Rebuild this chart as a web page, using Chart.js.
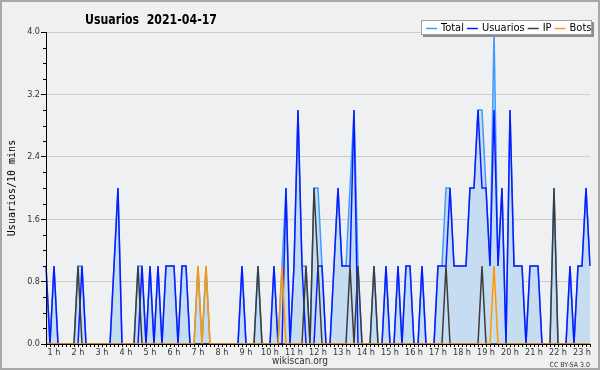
<!DOCTYPE html>
<html>
<head>
<meta charset="utf-8">
<script src="https://cdn.jsdelivr.net/npm/chart.js@4.4.0/dist/chart.umd.min.js"></script>
<style>
  html, body { margin: 0; padding: 0; background: #f0f0f0; }
  #chart { display: block; }
</style>
</head>
<body>
<canvas id="chart" width="600" height="370"></canvas>
<script>
// 10-minute slots, first slot 0:40, last 23:20
const firstSlot = '0:40';
const slotCount = 137;

// one row per hour (first row = 0:40, 0:50)
const usuarios = [
  1,0,
  1,0,0,0,0,0,  0,1,0,0,0,0,  0,0,0,1,2,0,  0,0,0,0,1,0,
  1,0,1,0,1,1,  1,0,1,1,0,0,  0,0,0,0,0,0,  0,0,0,0,0,1,
  0,0,0,0,0,0,  0,1,0,0,2,0,  1,3,1,0,0,0,  1,1,0,0,1,2,
  1,1,1,3,0,0,  0,0,0,0,0,1,  0,0,1,0,1,1,  0,0,1,0,0,0,
  1,1,1,2,1,1,  1,1,2,2,3,2,  2,1,3,1,2,0,  3,1,1,1,0,1,
  1,1,0,0,0,0,  0,0,0,1,0,1,  1,2,1
];
const ip = [
  0,0,
  0,0,0,0,0,0,  1,0,0,0,0,0,  0,0,0,0,0,0,  0,0,0,1,0,0,
  0,0,0,0,0,0,  0,0,0,0,0,0,  0,0,0,0,0,0,  0,0,0,0,0,0,
  0,0,0,1,0,0,  0,0,0,0,0,0,  0,0,0,1,0,2,  1,0,0,0,0,0,
  0,0,1,0,1,0,  0,0,1,0,0,0,  0,0,0,0,0,0,  0,0,0,0,0,0,
  0,0,1,0,0,0,  0,0,0,0,0,1,  0,0,0,0,0,0,  0,0,0,0,0,0,
  0,0,0,0,0,2,  0,0,0,0,0,0,  0,0,0
];
const bots = [
  0,0,
  0,0,0,0,0,0,  0,0,0,0,0,0,  0,0,0,0,0,0,  0,0,0,0,0,0,
  0,0,0,0,0,0,  0,0,0,0,0,0,  1,0,1,0,0,0,  0,0,0,0,0,0,
  0,0,0,0,0,0,  0,0,0,1,0,0,  0,0,0,0,0,0,  0,0,0,0,0,0,
  0,0,0,0,0,0,  0,0,0,0,0,0,  0,0,0,0,0,0,  0,0,0,0,0,0,
  0,0,0,0,0,0,  0,0,0,0,0,0,  0,0,1,0,0,0,  0,0,0,0,0,0,
  0,0,0,0,0,0,  0,0,0,0,0,0,  0,0,0
];
const total = [
  1,0,
  1,0,0,0,0,0,  1,1,0,0,0,0,  0,0,0,1,2,0,  0,0,0,1,1,0,
  1,0,1,0,1,1,  1,0,1,1,0,0,  1,0,1,0,0,0,  0,0,0,0,0,1,
  0,0,0,1,0,0,  0,1,0,1,2,0,  1,3,1,1,0,2,  2,1,0,0,1,2,
  1,1,2,3,1,0,  0,0,1,0,0,1,  0,0,1,0,1,1,  0,0,1,0,0,0,
  1,1,2,2,1,1,  1,1,2,2,3,3,  2,1,4,1,2,0,  3,1,1,1,0,1,
  1,1,0,0,0,2,  0,0,0,1,0,1,  1,2,1
];

const yTicks = [0, 0.8, 1.6, 2.4, 3.2, 4.0];
const seriesNames = ['Total', 'Usuarios', 'IP', 'Bots'];
const seriesColors = ['#3d9cff', '#0a1cff', '#3c3c3c', '#ff9800'];

const FONT = '"DejaVu Sans Condensed", "DejaVu Sans", sans-serif';

// slot labels "H:MM"
const slots = [];
{
  let [h, m] = firstSlot.split(':').map(Number);
  for (let i = 0; i < slotCount; i++) {
    slots.push(h + ':' + String(m).padStart(2, '0'));
    m += 10;
    if (m === 60) { m = 0; h++; }
  }
}

const decor = {
  id: 'decor',
  beforeDraw(chart) {
    const { ctx, chartArea: a } = chart;
    ctx.save();
    ctx.fillStyle = '#f0f0f0';
    ctx.fillRect(0, 0, chart.width, chart.height);
    ctx.fillStyle = '#eef0f2';
    ctx.fillRect(a.left, a.top, a.right - a.left, a.bottom - a.top);
    ctx.strokeStyle = '#a8a8a8';
    ctx.lineWidth = 2;
    ctx.strokeRect(1, 1, chart.width - 2, chart.height - 2);
    ctx.restore();
  },
  afterDatasetsDraw(chart) {
    // axis lines back on top of the zero segments
    const { ctx, chartArea: a } = chart;
    ctx.save();
    ctx.strokeStyle = '#000';
    ctx.lineWidth = 1;
    ctx.beginPath();
    ctx.moveTo(a.left + 0.5, a.top);
    ctx.lineTo(a.left + 0.5, a.bottom + 0.5);
    ctx.lineTo(a.right, a.bottom + 0.5);
    ctx.stroke();
    ctx.restore();
  },
  afterDraw(chart) {
    const { ctx, chartArea: a } = chart;
    const ys = chart.scales.y;
    ctx.save();

    // minor y ticks every 0.2
    ctx.strokeStyle = '#000';
    ctx.lineWidth = 1;
    ctx.beginPath();
    for (let k = 0; k <= 20; k++) {
      if (k % 4 === 0) continue;
      const y = Math.round(ys.getPixelForValue(k * 0.2)) + 0.5;
      ctx.moveTo(a.left - 3, y);
      ctx.lineTo(a.left, y);
    }
    ctx.stroke();

    // title
    ctx.fillStyle = '#000';
    ctx.font = 'bold 14px ' + FONT;
    ctx.textBaseline = 'alphabetic';
    ctx.textAlign = 'left';
    ctx.fillText('Usuarios  2021-04-17', 85, 24, 132);

    // y axis title
    ctx.save();
    ctx.translate(12, (a.top + a.bottom) / 2);
    ctx.rotate(-Math.PI / 2);
    ctx.font = '10px "DejaVu Sans Mono", monospace';
    ctx.textAlign = 'center';
    ctx.textBaseline = 'middle';
    ctx.fillText('Usuarios/10 mins', 0, 0);
    ctx.restore();

    // footer
    ctx.fillStyle = '#333';
    ctx.font = '10px ' + FONT;
    ctx.textAlign = 'center';
    ctx.textBaseline = 'middle';
    ctx.fillText('wikiscan.org', 300, 361);
    ctx.font = '7px ' + FONT;
    ctx.textAlign = 'right';
    ctx.fillText('CC BY-SA 3.0', 590, 365);

    // legend box
    const bx = 421, by = 20, bw = 171, bh = 15;
    ctx.fillStyle = '#8c8c8c';
    ctx.fillRect(bx + 2, by + 2, bw, bh);
    ctx.fillStyle = '#fff';
    ctx.fillRect(bx, by, bw, bh);
    ctx.strokeStyle = '#a0a0a0';
    ctx.strokeRect(bx + 0.5, by + 0.5, bw - 1, bh - 1);
    ctx.font = '11px ' + FONT;
    ctx.textAlign = 'left';
    ctx.textBaseline = 'middle';
    let cx = bx + 5;
    const ly = by + 8;
    seriesNames.forEach((name, i) => {
      ctx.strokeStyle = seriesColors[i];
      ctx.lineWidth = 1.5;
      ctx.beginPath();
      ctx.moveTo(cx, ly + 0.5);
      ctx.lineTo(cx + 11, ly + 0.5);
      ctx.stroke();
      ctx.fillStyle = '#000';
      ctx.fillText(name, cx + 15, ly);
      cx += 15 + ctx.measureText(name).width + 3;
    });

    ctx.restore();
  }
};

function lineSet(idx, data, extra) {
  return Object.assign({
    label: seriesNames[idx],
    data: data,
    borderColor: seriesColors[idx],
    borderWidth: 1.5,
    pointRadius: 0,
    tension: 0,
    fill: false
  }, extra);
}

new Chart(document.getElementById('chart'), {
  type: 'line',
  data: {
    labels: slots,
    datasets: [
      lineSet(3, bots, { order: 0 }),
      lineSet(2, ip, { order: 1 }),
      lineSet(1, usuarios, { order: 2 }),
      lineSet(0, total, { order: 3, fill: 'origin', backgroundColor: '#c6ddf1' })
    ]
  },
  options: {
    responsive: false,
    animation: false,
    devicePixelRatio: 1,
    layout: { padding: { top: 32, right: 10, left: 0, bottom: 0 } },
    plugins: {
      legend: { display: false },
      tooltip: { enabled: false }
    },
    scales: {
      x: {
        offset: false,
        grid: { drawOnChartArea: false, tickLength: 3, tickColor: '#000' },
        border: { color: '#000' },
        ticks: {
          autoSkip: false,
          maxRotation: 0,
          padding: 0,
          color: '#333',
          font: { family: FONT, size: 9 },
          callback: (v, i) => slots[i].endsWith(':00') ? parseInt(slots[i], 10) + ' h' : ''
        },
        afterFit: s => { s.height = 26; }
      },
      y: {
        min: 0,
        max: 4,
        afterBuildTicks: s => { s.ticks = yTicks.map(v => ({ value: v })); },
        grid: {
          color: c => c.tick && c.tick.value === 0 ? 'rgba(0,0,0,0)' : '#cdcdcd',
          tickColor: '#000',
          tickLength: 5
        },
        border: { color: '#000' },
        ticks: {
          padding: 1,
          color: '#333',
          font: { family: FONT, size: 9 },
          callback: v => v.toFixed(1)
        },
        afterFit: s => { s.width = 46; }
      }
    }
  },
  plugins: [decor]
});
</script>
</body>
</html>
